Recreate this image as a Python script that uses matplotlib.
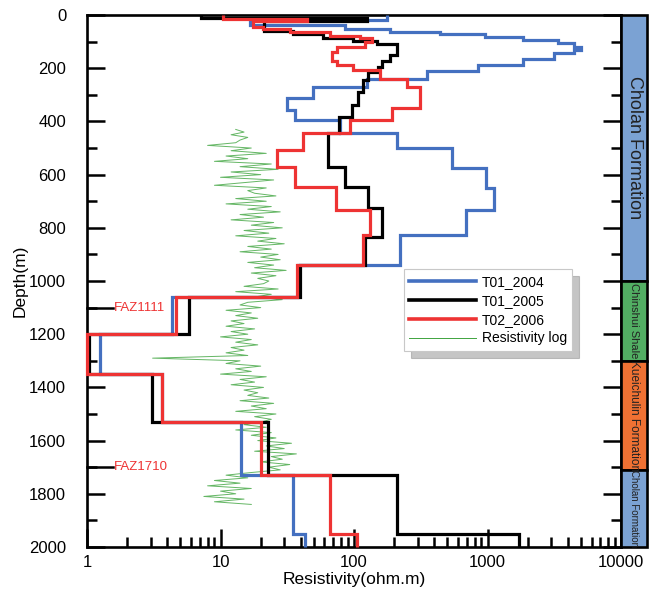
import numpy as np
import matplotlib.pyplot as plt
from matplotlib.ticker import FixedLocator, LogLocator, NullFormatter
from matplotlib.patches import Rectangle
from matplotlib.lines import Line2D

plt.rcParams['font.family'] = ['Liberation Sans', 'DejaVu Sans']
NARROW = ['Liberation Sans Narrow', 'Liberation Sans', 'DejaVu Sans']

# ---- step profiles: layer edges (depth, m) and resistivity (ohm.m) ----
edges_t01_2004 = [0, 17, 38, 51, 65, 72, 82, 94, 104, 119, 131, 144, 167, 188, 210, 240, 272,
                  313, 357, 394, 443, 499, 575, 650, 732, 826, 940, 1060, 1200, 1350, 1530,
                  1730, 1950, 2000]
rho_t01_2004 = [177, 16.5, 86, 186, 443, 949, 1830, 3360, 4430, 5000, 4430, 3140, 1830, 841,
                354, 125, 49, 31.4, 36, 78.5, 211, 545, 966, 1110, 684, 222, 38, 4.36, 1.25,
                3.66, 14.3, 35, 43]

edges_t01_2005 = [0, 11, 24, 60, 73, 86, 97, 109, 150, 173, 195, 214, 244, 289, 338, 383, 443,
                  571, 646, 725, 834, 940, 1060, 1200, 1350, 1530, 1730, 1950, 2000]
rho_t01_2005 = [7.2, 125, 21.3, 34.8, 58.4, 98.5, 149, 210, 185, 162, 151, 127, 116, 107, 96,
                77, 63.5, 85.6, 127, 162, 121, 39.3, 5.84, 1.04, 3.06, 22.7, 209, 1720]

edges_t02_2006 = [0, 13, 23, 45, 54, 64, 79, 88, 101, 120, 139, 173, 188, 208, 240, 272, 350,
                  394, 444, 507, 571, 646, 732, 826, 940, 1060, 1200, 1350, 1530, 1730, 1950,
                  2000]
rho_t02_2006 = [10.4, 44.3, 17.4, 20.7, 33, 66, 111, 137, 121, 74.5, 68.4, 74.5, 98.5, 157,
                250, 313, 193, 93.3, 41.4, 26.4, 36, 73.2, 132, 117, 37.3, 4.66, 1.0, 3.66,
                20.2, 66.4, 106]

# ---- resistivity log ----
log_depth = [430, 440, 450, 460, 470, 480, 490, 500, 510, 520, 530, 540, 550, 560,
             570, 580, 590, 600, 610, 620, 630, 640, 650, 660, 670, 680, 690, 700,
             710, 720, 730, 740, 750, 760, 770, 780, 790, 800, 810, 820, 830, 840,
             850, 860, 870, 880, 890, 900, 910, 920, 930, 940, 950, 960, 970, 980,
             990, 1000, 1010, 1020, 1030, 1040, 1050, 1060, 1070, 1080, 1090, 1100,
             1110, 1120, 1130, 1140, 1150, 1160, 1170, 1180, 1190, 1200, 1210, 1220,
             1230, 1240, 1250, 1260, 1270, 1280, 1290, 1300, 1310, 1320, 1330, 1340,
             1350, 1360, 1370, 1380, 1390, 1400, 1410, 1420, 1430, 1440, 1450, 1460,
             1470, 1480, 1490, 1500, 1510, 1520, 1530, 1540, 1550, 1560, 1570, 1580,
             1590, 1600, 1610, 1620, 1630, 1640, 1650, 1660, 1670, 1680, 1690, 1700,
             1710, 1720, 1730, 1740, 1750, 1760, 1770, 1780, 1790, 1800, 1810, 1820,
             1830, 1840]
log_rho = [13, 15, 12, 16, 14, 13,
           8, 17, 12, 22, 11, 16, 9, 24,
           14, 27, 12, 20, 10, 25, 15, 9, 22, 16,
           18, 26, 13, 22, 11, 24, 16, 28, 14, 21, 12, 25,
           17, 29, 15, 23, 13, 26, 19, 30, 16, 24, 14, 27,
           20, 28, 16, 25, 18, 31, 17, 26, 19, 23,
           21, 15, 27, 13, 24, 18, 29, 16,
           14, 20, 11, 17, 13, 19, 12,
           15, 11, 18, 12, 16, 10, 17, 13, 19, 12, 15, 11, 16,
           3.1,
           14, 11, 20, 13, 17, 10, 22, 14, 18, 12, 21, 15, 19,
           16, 23, 14, 25, 17, 22, 13, 26, 18, 24, 20,
           15, 22, 13, 24, 17,
           26, 19, 34, 22, 30, 18, 37, 24, 29, 20, 33, 23, 28, 17,
           11, 16, 9, 14, 8, 17, 10, 13, 7.5, 15, 9, 17]

# ---- formations ----
form_edges = [0, 1000, 1300, 1710, 2000]
form_names = ['Cholan Formation', 'Chinshui Shale', 'Kueichulin Formation', 'Cholan Formation']
form_colors = ['#7ba2d3', '#52ae63', '#ef7133', '#7ba2d3']
form_sizes = [13, 8, 8.5, 7]

faz_depth = [1100, 1700]
faz_names = ['FAZ1111', 'FAZ1710']

BLUE, RED, GREEN = '#4470c0', '#ee3333', '#3ea43e'

fig = plt.figure(figsize=(6.53, 5.93), dpi=100)
ax = fig.add_axes([0.1332, 0.0776, 0.818, 0.897])

ax.plot(log_rho, log_depth, color=GREEN, lw=0.7, alpha=0.8, zorder=2)
ax.stairs(rho_t01_2004, edges_t01_2004, orientation='horizontal', baseline=None,
          color=BLUE, lw=2.3, zorder=3, clip_on=False)
ax.stairs(rho_t01_2005, edges_t01_2005, orientation='horizontal', baseline=None,
          color='black', lw=2.3, zorder=4, clip_on=False)
ax.stairs(rho_t02_2006, edges_t02_2006, orientation='horizontal', baseline=None,
          color=RED, lw=2.3, zorder=5, clip_on=False)

ax.set_xscale('log')
ax.set_xlim(1, 10000)
ax.set_ylim(2000, 0)

ax.xaxis.set_major_locator(FixedLocator([1, 10, 100, 1000, 10000]))
ax.xaxis.set_minor_locator(LogLocator(base=10, subs=range(2, 10)))
ax.xaxis.set_minor_formatter(NullFormatter())
ax.set_xticks([1, 10, 100, 1000, 10000], ['1', '10', '100', '1000', '10000'])
ax.set_yticks(range(0, 2001, 200))
ax.set_yticks(range(100, 2000, 200), minor=True)

ax.tick_params(which='both', direction='in', width=1.8, top=False, right=True,
               labelsize=12, colors='black')
ax.tick_params(which='major', length=13)
ax.tick_params(which='minor', length=7)
ax.tick_params(axis='y', pad=15)
ax.tick_params(axis='x', pad=6)
for sp in ax.spines.values():
    sp.set_linewidth(1.9)

ax.set_xlabel('Resistivity(ohm.m)', fontsize=12.5, labelpad=1)
ax.set_ylabel('Depth(m)', fontsize=12.5)
ax.yaxis.set_label_coords(-0.112, 0.5)

# fault zone markers
for d, name in zip(faz_depth, faz_names):
    ax.plot([1, 1.56], [d, d], color='black', lw=1.8, zorder=6, clip_on=False)
    ax.text(1.6, d, name, color=RED, fontsize=9.5, va='center', ha='left', family=NARROW)

handles = [Line2D([], [], color=BLUE, lw=2.6),
           Line2D([], [], color='black', lw=2.6),
           Line2D([], [], color=RED, lw=2.6),
           Line2D([], [], color=GREEN, lw=0.7)]
labels = ['T01_2004', 'T01_2005', 'T02_2006', 'Resistivity log']
leg = ax.legend(handles, labels, loc='upper left', bbox_to_anchor=(0.593, 0.522),
                borderaxespad=0, fontsize=10, handlelength=4.8, handletextpad=0.4,
                labelspacing=0.35, fancybox=False, edgecolor='#c8c8c8', framealpha=1,
                shadow={'ox': 5, 'oy': -5, 'color': '0.55'})
leg.get_frame().set_linewidth(0.8)

# formation column
bx = fig.add_axes([0.951, 0.0776, 0.040, 0.897])
bx.set_xlim(0, 1)
bx.set_ylim(2000, 0)
bx.axis('off')
for i in range(len(form_names)):
    top, bot = form_edges[i], form_edges[i + 1]
    bx.add_patch(Rectangle((0, top), 1, bot - top, facecolor=form_colors[i],
                           edgecolor='black', lw=1.9, clip_on=False))
    bx.text(0.5, (top + bot) / 2, form_names[i], rotation=270, ha='center', va='center',
            fontsize=form_sizes[i], color='#222222',
            family=NARROW if i > 0 else ['Liberation Sans', 'DejaVu Sans'])

fig.savefig('out.png', dpi=100)
